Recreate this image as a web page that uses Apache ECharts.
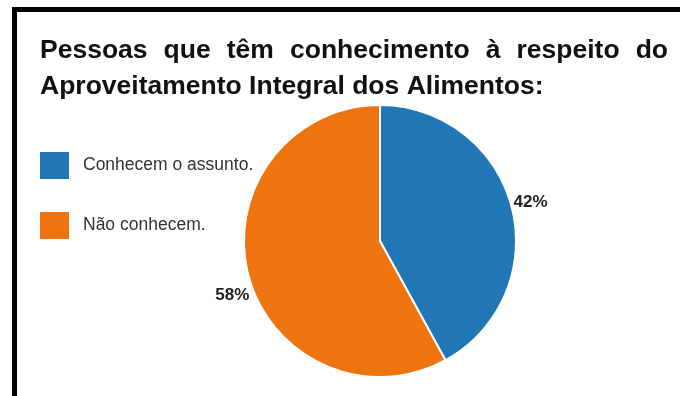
<!DOCTYPE html>
<html>
<head>
<meta charset="utf-8">
<script src="https://cdn.jsdelivr.net/npm/echarts@6/dist/echarts.min.js"></script>
<style>
  html, body { margin: 0; padding: 0; background: #fff; }
  #wrap { position: relative; width: 680px; height: 396px; overflow: hidden; }
  #chart { position: absolute; left: 0; top: 0; width: 680px; height: 396px; }
  #frame { position: absolute; left: 12px; top: 7px; right: -10px; bottom: -10px;
           border-top: 5px solid #000; border-left: 5px solid #000; pointer-events: none; }
</style>
</head>
<body>
<div id="wrap">
  <div id="chart"></div>
  <div id="frame"></div>
</div>
<script>
// Survey: knowledge about whole-food use
const titleLine1 = ['Pessoas', 'que', 'têm', 'conhecimento', 'à', 'respeito', 'do'];
const titleLine2 = 'Aproveitamento Integral dos Alimentos:';
const categories = ['Conhecem o assunto.', 'Não conhecem.'];
const shares = [42, 58];
const colors = ['#2176b6', '#ee7410'];

const titleSize = 26.5;
const titleFont = 'bold ' + titleSize + 'px "Liberation Sans", Arial, sans-serif';
const titleLeft = 40, titleRight = 668;

// Justify the first title line across the full width
const ctx = document.createElement('canvas').getContext('2d');
ctx.font = titleFont;
const wordsWidth = titleLine1.reduce((s, w) => s + ctx.measureText(w).width, 0);
const gap = (titleRight - titleLeft - wordsWidth) / (titleLine1.length - 1);
const line1 = titleLine1.map(w => '{w|' + w + '}').join('{g| }');

// Small nudges for the outside percentage labels
const labelShift = [[-7, -4], [10, 19]];

const chart = echarts.init(document.getElementById('chart'), null, { renderer: 'canvas' });
chart.setOption({
  animation: false,
  backgroundColor: '#fff',
  color: colors,
  title: {
    left: titleLeft - 5,
    top: 28,
    text: line1 + '\n{w|' + titleLine2 + '}',
    textStyle: {
      rich: {
        w: { fontFamily: '"Liberation Sans", Arial, sans-serif', fontSize: titleSize, fontWeight: 'bold', color: '#111', lineHeight: 36 },
        g: { width: gap, fontSize: titleSize, lineHeight: 36 }
      }
    }
  },
  legend: {
    orient: 'vertical',
    left: 38,
    top: 150,
    padding: 0,
    icon: 'rect',
    itemWidth: 31,
    itemHeight: 29,
    itemGap: 29,
    data: categories,
    textStyle: {
      fontFamily: '"Liberation Sans", Arial, sans-serif',
      fontSize: 17.5,
      color: '#333',
      padding: [0, 0, 0, 8]
    }
  },
  series: [{
    type: 'pie',
    center: [380, 241],
    radius: 136,
    startAngle: 90,
    clockwise: true,
    data: categories.map((c, i) => ({ name: c, value: shares[i] })),
    itemStyle: { borderColor: '#fff', borderWidth: 2 },
    label: {
      show: true,
      position: 'outside',
      formatter: p => p.value + '%',
      fontFamily: '"Liberation Sans", Arial, sans-serif',
      fontSize: 17,
      fontWeight: 'bold',
      color: '#222'
    },
    labelLine: { show: false, length: 4, length2: 0 },
    labelLayout: p => ({ dx: labelShift[p.dataIndex][0], dy: labelShift[p.dataIndex][1] }),
    emphasis: { disabled: true }
  }]
});
</script>
</body>
</html>
